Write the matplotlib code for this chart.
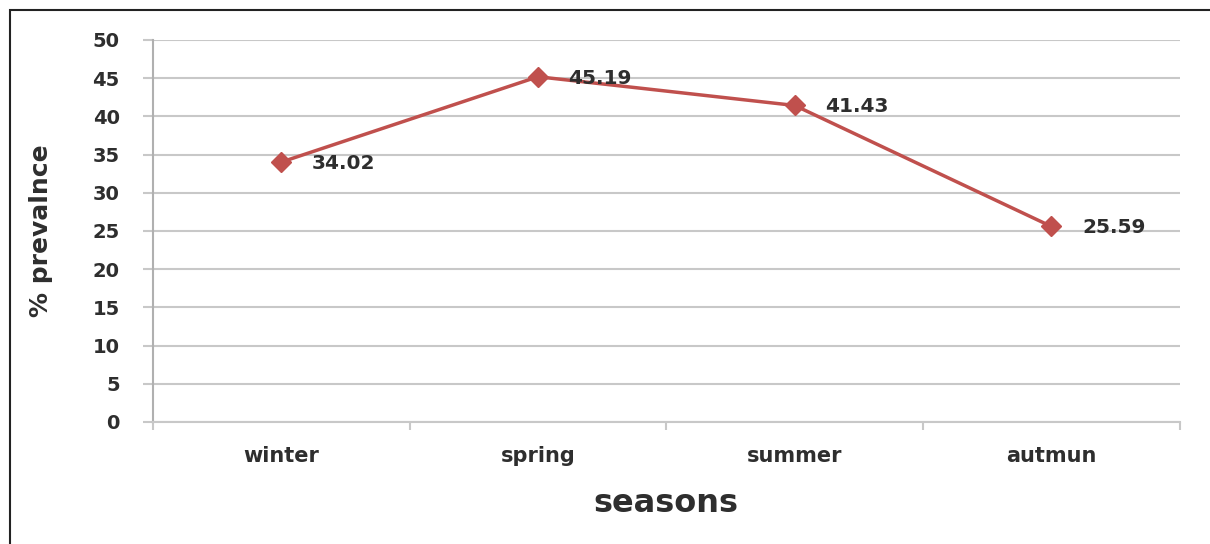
#!/usr/bin/env python3
"""Seasonal prevalence line chart"""

import matplotlib
matplotlib.use('Agg')
import matplotlib.pyplot as plt
from matplotlib.patches import Rectangle

# Data
seasons = ['winter', 'spring', 'summer', 'autmun']
prevalence = [34.02, 45.19, 41.43, 25.59]
y_ticks = [0, 5, 10, 15, 20, 25, 30, 35, 40, 45, 50]

LINE_COLOR = '#C0504D'
GRID_COLOR = '#C8C8C8'
TEXT_COLOR = '#2E2E2E'

plt.rcParams['font.family'] = ['DejaVu Sans']

fig = plt.figure(figsize=(12.1, 5.44), dpi=100)
ax = fig.add_axes([0.1264, 0.2243, 0.8486, 0.7022])

# outer frame of the chart
fig.patches.append(Rectangle((10 / 1210, -0.05), 1.2, 1 - 10 / 544 + 0.05,
                             transform=fig.transFigure, fill=False,
                             edgecolor='#222222', linewidth=1.5))

x = list(range(len(seasons)))
ax.plot(x, prevalence, color=LINE_COLOR, linewidth=2.5, marker='D',
        markersize=10.5, markerfacecolor=LINE_COLOR, markeredgecolor=LINE_COLOR,
        zorder=3)

for xi, val in zip(x, prevalence):
    ax.annotate(f'{val:.2f}', (xi, val), xytext=(22, -1), textcoords='offset points',
                ha='left', va='center', fontsize=14.5, fontweight='bold',
                color=TEXT_COLOR, zorder=4)

ax.set_xlim(-0.5, len(seasons) - 0.5)
ax.set_ylim(0, 50)
ax.set_yticks(y_ticks)
ax.set_xticks(x)
ax.set_xticklabels(seasons)
ax.set_xticks([i - 0.5 for i in range(len(seasons) + 1)], minor=True)

ax.yaxis.grid(True, color=GRID_COLOR, linewidth=1.5)
ax.set_axisbelow(True)

for side in ['top', 'right']:
    ax.spines[side].set_visible(False)
ax.spines['left'].set_color('#B0B0B0')
ax.spines['left'].set_linewidth(1.5)
ax.spines['bottom'].set_color(GRID_COLOR)
ax.spines['bottom'].set_linewidth(1.5)

ax.tick_params(axis='y', length=7, color=GRID_COLOR, width=1.5, pad=17,
               labelsize=14, labelcolor=TEXT_COLOR)
ax.tick_params(axis='x', which='major', length=0, pad=17,
               labelsize=15, labelcolor=TEXT_COLOR)
ax.tick_params(axis='x', which='minor', length=6, color=GRID_COLOR, width=1.5)
for lbl in ax.get_yticklabels() + ax.get_xticklabels():
    lbl.set_fontweight('bold')

ax.set_ylabel('% prevalnce', fontsize=18, color=TEXT_COLOR, fontweight='semibold')
ax.yaxis.set_label_coords(-0.097, 0.5)
ax.set_xlabel('seasons', fontsize=23, color=TEXT_COLOR, fontweight='semibold')
ax.xaxis.set_label_coords(0.5, -0.172)

fig.savefig('out.png', dpi=100, facecolor='white')
